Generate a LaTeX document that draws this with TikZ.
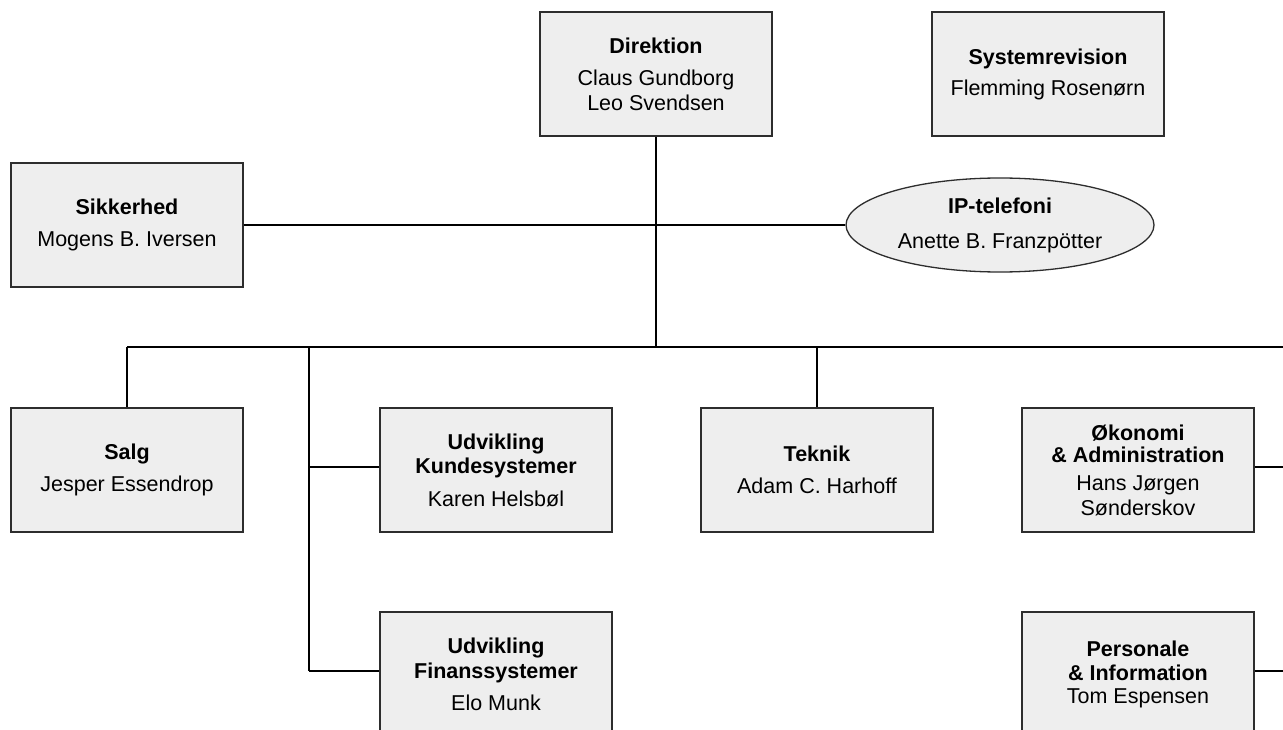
\documentclass[tikz,border=0pt]{standalone}
\usepackage{fontspec}
\setmainfont{Liberation Sans}
\usetikzlibrary{shapes.geometric}
\definecolor{boxfill}{RGB}{238,238,238}
\definecolor{boxline}{RGB}{45,45,45}
\tikzset{
  orgbox/.style={draw=boxline, fill=boxfill, line width=1.3pt, minimum width=232pt, minimum height=124pt, inner sep=0pt, align=center, font=\fontsize{21.5}{25}\selectfont},
  orgell/.style={ellipse, draw=boxline, fill=boxfill, line width=1.3pt, minimum width=308pt, minimum height=94pt, inner sep=0pt, align=center, font=\fontsize{21.5}{25}\selectfont},
  conn/.style={draw=black, line width=1.3pt}
}
\begin{document}
\begin{tikzpicture}[x=1pt,y=-1pt]
\useasboundingbox (0,0) rectangle (1283,730);
\clip (0,0) rectangle (1283,730);
% nodes
\node[orgbox] (dir) at (656,74) {\textbf{Direktion}\\[7pt]Claus Gundborg\\Leo Svendsen};
\node[orgbox] (sys) at (1048,74) {\textbf{Systemrevision}\\[6pt]Flemming Rosenørn};
\node[orgbox] (sik) at (127,225) {\textbf{Sikkerhed}\\[7pt]Mogens B. Iversen};
\node[orgell] (ip) at (1000,225) {\textbf{IP-telefoni}\\[10pt]Anette B. Franzpötter};
\node[orgbox] (salg) at (127,470) {\textbf{Salg}\\[7pt]Jesper Essendrop};
\node[orgbox] (kunde) at (496,470) {\textbf{Udvikling}\\[-1pt]\textbf{Kundesystemer}\\[8pt]Karen Helsbøl};
\node[orgbox] (teknik) at (817,470) {\textbf{Teknik}\\[7pt]Adam C. Harhoff};
\node[orgbox] (oko) at (1138,470) {\textbf{Økonomi}\\[-3pt]\textbf{\& Administration}\\[3pt]Hans Jørgen\\Sønderskov};
\node[orgbox] (fin) at (496,674) {\textbf{Udvikling}\\\textbf{Finanssystemer}\\[7pt]Elo Munk};
\node[orgbox] (pers) at (1138,674) {\textbf{Personale}\\[-1pt]\textbf{\& Information}\\[-2pt]Tom Espensen};
% coordinates
\coordinate (j) at (656,347);
\coordinate (b1) at (127,347);
\coordinate (b2) at (309,347);
\coordinate (b3) at (817,347);
\coordinate (bR) at (1295,347);
\coordinate (k1) at (309,467);
\coordinate (f1) at (309,671);
\coordinate (o1) at (1295,467);
\coordinate (pR) at (1295,671);
% connectors
\draw[conn] (dir.south) -- (j);
\draw[conn] (sik.east) -- (ip.west);
\draw[conn] (b1) -- (bR);
\draw[conn] (b1) -- (salg.north);
\draw[conn] (b3) -- (teknik.north);
\draw[conn] (b2) -- (f1);
\draw[conn] (k1) -- (k1 -| kunde.west);
\draw[conn] (f1) -- (f1 -| fin.west);
\draw[conn] (bR) -- (pR);
\draw[conn] (o1 -| oko.east) -- (o1);
\draw[conn] (pR -| pers.east) -- (pR);
\end{tikzpicture}
\end{document}
